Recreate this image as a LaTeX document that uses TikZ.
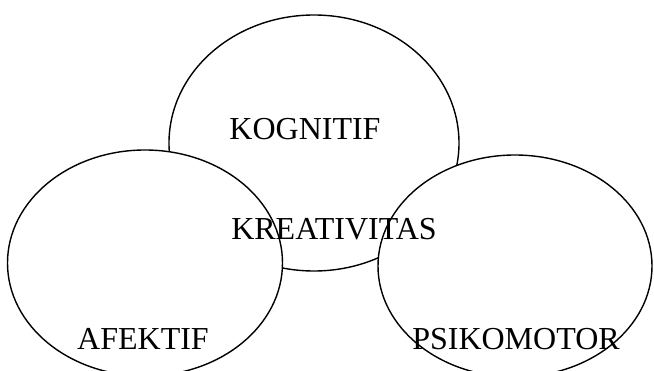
\documentclass[tikz,border=0pt]{standalone}
\usepackage{fontspec}
\setmainfont{Liberation Serif}
\usetikzlibrary{shapes.geometric}

\begin{document}
\begin{tikzpicture}[x=1pt,y=-1pt,line width=1.4pt,
    areabox/.style={draw,ellipse,fill=white,inner sep=0pt},
    areatext/.style={inner sep=0pt,font=\fontsize{32}{38}\selectfont}]
\useasboundingbox (0,0) rectangle (654,371);
\clip (0,0) rectangle (654,371);
% three overlapping areas
\node[areabox,minimum width=290pt,minimum height=256pt] (kog) at (314,143) {};
\node[areabox,minimum width=275pt,minimum height=226pt] (afe) at (145,263) {};
\node[areabox,minimum width=274pt,minimum height=222pt] (psi) at (515,266) {};
% texts
\node[areatext] (t-kog) at (305,129) {KOGNITIF};
\node[areatext] (t-kre) at (334,229) {KREATIVITAS};
\node[areatext] (t-afe) at (143,339) {AFEKTIF};
\node[areatext] (t-psi) at (516,339) {PSIKOMOTOR};
\end{tikzpicture}
\end{document}
